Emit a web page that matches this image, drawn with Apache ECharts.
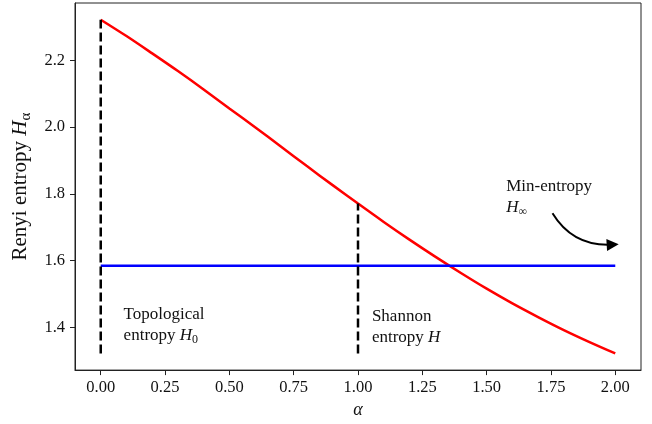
<!DOCTYPE html>
<html>
<head>
<meta charset="utf-8">
<script src="https://cdn.jsdelivr.net/npm/echarts@6/dist/echarts.min.js"></script>
<style>
html,body{margin:0;padding:0;background:#fff;}
#c{width:652px;height:424px;}
</style>
</head>
<body>
<div id="c"></div>
<script>
// ---- data ----
const alpha = [0, 0.1, 0.2, 0.3, 0.4, 0.5, 0.6, 0.7, 0.8, 0.9, 1.0,
               1.1, 1.2, 1.3, 1.4, 1.5, 1.6, 1.7, 1.8, 1.9, 2.0];
const renyi = [2.322, 2.273, 2.221, 2.168, 2.113, 2.056, 2.000, 1.942, 1.884, 1.827, 1.771,
               1.716, 1.663, 1.612, 1.563, 1.516, 1.472, 1.431, 1.392, 1.356, 1.322];
const minEntropy = 1.585;
const minEntropyRange = [0, 2];
const dashAlphas = [0, 1];           // topological (alpha=0) and Shannon (alpha=1)
const xTicks = [0, 0.25, 0.5, 0.75, 1.0, 1.25, 1.5, 1.75, 2.0];
const yTicks = [1.4, 1.6, 1.8, 2.0, 2.2];

// ---- derived ----
const FONT = '"Liberation Serif", "DejaVu Serif", serif';
const TXT = '#111';
const yLo = Math.min(...renyi), yHi = Math.max(...renyi);
const ySpan = yHi - yLo;
const xLo = alpha[0], xHi = alpha[alpha.length - 1], xSpan = xHi - xLo;

function rich(size) {
  return {
    r: {fontFamily: FONT, fontSize: size, color: TXT, lineHeight: Math.round(size * 1.24)},
    i: {fontFamily: FONT, fontSize: size, fontStyle: 'italic', color: TXT, lineHeight: Math.round(size * 1.24)},
    s: {fontFamily: FONT, fontSize: Math.round(size * 0.72), color: TXT,
        lineHeight: Math.round(size * 0.72), verticalAlign: 'bottom'}
  };
}

function dashSeries(a) {
  const idx = alpha.indexOf(a);
  return {
    type: 'line', silent: true, symbol: 'none', z: 3,
    data: [[a, yLo], [a, renyi[idx]]],
    lineStyle: {color: '#000', width: 2.5, type: [9, 4]}
  };
}

function textMark(coord, text) {
  return {
    coord: coord, symbol: 'circle', symbolSize: 0,
    label: {show: true, position: [0, 0], align: 'left', verticalAlign: 'middle',
            formatter: text, rich: rich(17)}
  };
}

const chart = echarts.init(document.getElementById('c'), null, {renderer: 'canvas'});
chart.setOption({
  animation: false,
  backgroundColor: '#fff',
  grid: {left: 75, right: 11, top: 3, bottom: 53, show: true, borderColor: '#222', borderWidth: 1},
  xAxis: {
    type: 'value', min: xLo - 0.05 * xSpan, max: xHi + 0.05 * xSpan,
    splitLine: {show: false},
    axisLine: {onZero: false, lineStyle: {color: '#222', width: 1}},
    axisTick: {customValues: xTicks, length: 5, lineStyle: {color: '#222', width: 1}},
    axisLabel: {customValues: xTicks, formatter: v => v.toFixed(2), margin: 9,
                fontFamily: FONT, fontSize: 16.5, color: TXT},
    name: 'α', nameLocation: 'middle', nameGap: 28,
    nameTextStyle: {fontFamily: FONT, fontSize: 18, fontStyle: 'italic', color: TXT}
  },
  yAxis: {
    type: 'value', min: yLo - 0.05 * ySpan, max: yHi + 0.05 * ySpan,
    splitLine: {show: false},
    axisLine: {onZero: false, lineStyle: {color: '#222', width: 1}},
    axisTick: {customValues: yTicks, length: 5, lineStyle: {color: '#222', width: 1}},
    axisLabel: {customValues: yTicks, formatter: v => v.toFixed(1), margin: 10,
                fontFamily: FONT, fontSize: 16.5, color: TXT},
    name: '{r|Renyi entropy }{i|H}{s|α}', nameLocation: 'middle', nameGap: 38,
    nameTextStyle: {rich: rich(21)}
  },
  series: [
    {
      type: 'line', symbol: 'none', smooth: 0.3, z: 2,
      data: alpha.map((a, i) => [a, renyi[i]]),
      lineStyle: {color: '#ff0000', width: 2.5}
    },
    {
      type: 'line', symbol: 'none', z: 2,
      data: minEntropyRange.map(a => [a, minEntropy]),
      lineStyle: {color: '#0000ff', width: 2.5},
      markPoint: {
        silent: true,
        data: [
          textMark([0.089, 1.408], '{r|Topological}\n{r|entropy }{i|H}{s|0}'),
          textMark([1.054, 1.402], '{r|Shannon}\n{r|entropy }{i|H}'),
          textMark([1.576, 1.790], '{r|Min-entropy}\n{i|H}{s|∞}')
        ]
      }
    },
    ...dashAlphas.map(dashSeries),
    {
      type: 'lines', coordinateSystem: 'cartesian2d', silent: true, z: 4,
      symbol: ['none', 'triangle'], symbolSize: 12,
      lineStyle: {color: '#000', width: 2, opacity: 1, curveness: -0.3},
      data: [{coords: [[1.756, 1.742], [1.99, 1.648]]}]
    }
  ]
});
</script>
</body>
</html>
